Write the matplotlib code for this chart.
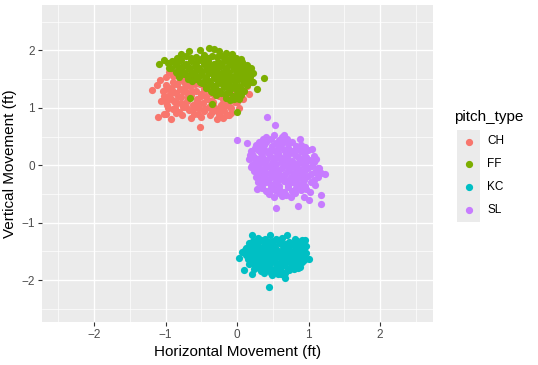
import matplotlib.pyplot as plt
from matplotlib.lines import Line2D
from matplotlib.patches import Rectangle
import numpy as np

plt.rcParams['font.family'] = ['Liberation Sans', 'DejaVu Sans']

# pitch movement (ft)
ch_x = [-1.19, -1.11, -1.03, -0.93, -0.52, -0.28, -0.20, -0.08, 0.03, 0.14, 0.17, -1.08, -0.99, -0.85,
        -1.02, -0.98, -0.95, -0.92, -0.90, -0.88, -0.86, -0.84, -0.82, -0.80, -0.78, -0.76, -0.74,
        -0.72, -0.70, -0.68, -0.66, -0.64, -0.62, -0.60, -0.58, -0.56, -0.54, -0.52, -0.50, -0.48,
        -0.46, -0.44, -0.42, -0.40, -0.38, -0.36, -0.34, -0.30, -0.26, -0.22, -0.18, -0.14, -0.10,
        -0.05, 0.00, 0.06, -0.96, -0.90, -0.70, -0.60, -1.06, -0.93, -0.77, -0.65, -0.50, -0.35,
        -1.12, -1.00, -0.87, -0.73, -0.58, -0.43, -0.12, 0.08,
        -0.97, -0.87, -0.71, -0.61, -0.45, -0.33, -0.24, -0.08,
        -1.00, -0.89, -0.79, -0.55, -0.37, -0.20, -0.03,
        -0.97, -0.83, -0.69, -0.51, -0.33, -0.17,
        -1.04, -0.91, -0.76, -0.63, -0.47,
        -0.99, -0.84, -0.69, -0.59,
        -0.99, -0.85, -0.55, -0.25, -0.14,
        -0.30, -0.20, -0.10, 0.00, 0.10, -0.25, -0.40, -0.15, 0.02, -0.45, -0.55,
        -0.80, -0.90, -0.85, -0.75]
ch_y = [1.31, 0.84, 0.89, 0.80, 0.66, 0.80, 0.82, 0.91, 1.57, 1.38, 1.24, 1.48, 1.54, 1.81,
        1.20, 1.05, 1.35, 1.15, 0.98, 1.42, 1.25, 1.08, 0.92, 1.33, 1.18, 1.02, 1.45,
        1.28, 1.12, 0.96, 1.38, 1.22, 1.05, 0.90, 1.30, 1.15, 1.00, 1.42, 1.24, 1.08,
        0.94, 1.32, 1.16, 1.02, 0.88, 1.26, 1.10, 0.97, 1.20, 1.05, 0.95, 1.14, 1.02,
        1.20, 1.10, 1.28, 1.62, 1.55, 1.58, 1.52, 1.12, 1.26, 0.88, 0.82, 0.84, 0.92,
        1.40, 1.32, 1.10, 1.36, 1.08, 1.20, 0.88, 1.16,
        1.00, 0.99, 1.01, 1.00, 0.98, 1.02, 1.00, 0.99,
        1.10, 1.11, 1.09, 1.10, 1.12, 1.08, 1.10,
        1.20, 1.21, 1.19, 1.20, 1.22, 1.18,
        1.30, 1.31, 1.29, 1.30, 1.32,
        1.40, 1.41, 1.39, 1.42,
        0.90, 0.91, 0.89, 0.90, 0.88,
        1.22, 1.15, 1.25, 1.20, 1.30, 1.30, 1.35, 1.05, 1.00, 1.45, 1.45,
        1.50, 1.45, 1.62, 1.55]

ff_x = [-1.03, -1.10, -0.67, -0.40, -0.25, -0.07, 0.14, 0.15, 0.21, 0.28, 0.38, 0.00, -0.66, -0.35,
        -0.52, -0.32, -0.15, 0.05, -0.78,
        -0.71, -0.57, -0.46, -0.35, -0.21, -0.09,
        -0.91, -0.79, -0.65, -0.51, -0.41, -0.27, -0.15, -0.03, 0.07,
        -0.86, -0.73, -0.59, -0.47, -0.34, -0.23, -0.11, 0.01, 0.11,
        -0.81, -0.67, -0.56, -0.44, -0.29, -0.17, -0.05, 0.07, 0.17,
        -0.75, -0.63, -0.51, -0.39, -0.25, -0.13, -0.01, 0.09,
        -0.69, -0.57, -0.45, -0.33, -0.21, -0.09, 0.03, 0.15,
        -0.49, -0.37, -0.27, -0.13, -0.03, 0.09,
        -0.43, -0.29, -0.19, -0.07, 0.05,
        -0.35, -0.23, -0.11, 0.01,
        -0.16, -0.05,
        -0.84, 0.22, -0.95,
        -0.84, -0.64, -0.51, -0.41, -0.28, -0.15, -0.02,
        -0.97, -0.84, -0.72, -0.58, -0.46, -0.33, -0.21, -0.09, 0.02,
        -0.92, -0.79, -0.66, -0.53, -0.41, -0.28, -0.16, -0.04, 0.07, 0.19,
        -0.86, -0.74, -0.62, -0.49, -0.37, -0.23, -0.11, 0.01, 0.13,
        -0.81, -0.69, -0.56, -0.44, -0.32, -0.19, -0.07, 0.05, 0.18,
        -0.63, -0.52, -0.40, -0.27, -0.14, -0.03, 0.10, 0.22,
        -0.44, -0.32, -0.20, -0.09, 0.03, 0.14,
        -0.36, -0.25, -0.12, 0.00, 0.10,
        -0.29, -0.17, -0.06, 0.05,
        -0.10, 0.02]
ff_y = [1.83, 1.77, 1.99, 2.04, 1.99, 1.93, 1.75, 1.69, 1.45, 1.32, 1.52, 0.93, 1.17, 1.07,
        2.00, 2.02, 1.96, 1.85, 1.93,
        1.91, 1.89, 1.92, 1.90, 1.91, 1.88,
        1.82, 1.83, 1.81, 1.84, 1.82, 1.80, 1.83, 1.81, 1.80,
        1.74, 1.75, 1.73, 1.76, 1.74, 1.72, 1.75, 1.73, 1.72,
        1.66, 1.67, 1.65, 1.68, 1.66, 1.64, 1.67, 1.65, 1.63,
        1.58, 1.59, 1.57, 1.60, 1.58, 1.56, 1.59, 1.57,
        1.50, 1.51, 1.49, 1.52, 1.50, 1.48, 1.51, 1.49,
        1.43, 1.41, 1.44, 1.42, 1.40, 1.43,
        1.35, 1.33, 1.36, 1.34, 1.32,
        1.27, 1.25, 1.28, 1.24,
        1.17, 1.16,
        1.60, 1.60, 1.70,
        1.86, 1.87, 1.85, 1.86, 1.88, 1.85, 1.86,
        1.78, 1.79, 1.77, 1.78, 1.80, 1.77, 1.78, 1.79, 1.77,
        1.70, 1.71, 1.69, 1.70, 1.72, 1.69, 1.70, 1.71, 1.69, 1.70,
        1.62, 1.63, 1.61, 1.62, 1.64, 1.61, 1.62, 1.63, 1.61,
        1.54, 1.55, 1.53, 1.54, 1.56, 1.53, 1.54, 1.55, 1.53,
        1.47, 1.45, 1.46, 1.48, 1.45, 1.46, 1.47, 1.45,
        1.37, 1.38, 1.40, 1.37, 1.38, 1.39,
        1.29, 1.30, 1.32, 1.29, 1.30,
        1.22, 1.24, 1.21, 1.22,
        1.14, 1.16]

kc_x = [0.07, 0.09, 0.45, 0.21, 0.67, 0.95, 1.00, 0.88, 0.21, 0.46, 0.70, 0.03,
        0.29, 0.39, 0.54, 0.63, 0.81,
        0.17, 0.27, 0.39, 0.47, 0.59, 0.67, 0.79, 0.87,
        0.13, 0.25, 0.33, 0.45, 0.53, 0.65, 0.73, 0.85, 0.93,
        0.17, 0.25, 0.37, 0.45, 0.57, 0.65, 0.77, 0.85, 0.97,
        0.19, 0.29, 0.37, 0.49, 0.57, 0.69, 0.77, 0.89,
        0.21, 0.29, 0.41, 0.49, 0.61, 0.69, 0.81, 0.91,
        0.25, 0.37, 0.45, 0.57, 0.65, 0.77, 0.83,
        0.33, 0.41, 0.53, 0.61, 0.73,
        0.49, 0.61,
        0.22, 0.33, 0.44, 0.50, 0.60, 0.72, 0.84, 0.91,
        0.19, 0.29, 0.43, 0.51, 0.62, 0.71, 0.81, 0.90, 0.97,
        0.11, 0.21, 0.29, 0.41, 0.49, 0.61, 0.69, 0.81, 0.89,
        0.13, 0.22, 0.33, 0.43, 0.53, 0.61, 0.73, 0.83, 0.93,
        0.15, 0.24, 0.33, 0.45, 0.53, 0.64, 0.73, 0.84, 0.94,
        0.17, 0.26, 0.35, 0.45, 0.55, 0.65, 0.75, 0.87,
        0.23, 0.31, 0.41, 0.51, 0.61, 0.71, 0.80, 0.85,
        0.38, 0.47, 0.57, 0.67]
kc_y = [-1.51, -1.83, -2.12, -1.89, -1.97, -1.31, -1.63, -1.77, -1.22, -1.21, -1.22, -1.62,
        -1.27, -1.29, -1.28, -1.26, -1.29,
        -1.36, -1.35, -1.37, -1.36, -1.34, -1.37, -1.35, -1.36,
        -1.44, -1.43, -1.45, -1.44, -1.42, -1.45, -1.43, -1.44, -1.45,
        -1.52, -1.51, -1.53, -1.52, -1.50, -1.53, -1.51, -1.52, -1.53,
        -1.60, -1.59, -1.61, -1.60, -1.58, -1.61, -1.59, -1.60,
        -1.68, -1.67, -1.69, -1.68, -1.66, -1.69, -1.67, -1.68,
        -1.76, -1.75, -1.77, -1.76, -1.74, -1.77, -1.75,
        -1.84, -1.83, -1.85, -1.84, -1.82,
        -1.92, -1.90,
        -1.32, -1.31, -1.33, -1.32, -1.30, -1.33, -1.32, -1.31,
        -1.40, -1.39, -1.41, -1.40, -1.38, -1.41, -1.40, -1.39, -1.41,
        -1.48, -1.47, -1.49, -1.48, -1.46, -1.49, -1.48, -1.47, -1.49,
        -1.56, -1.55, -1.57, -1.56, -1.54, -1.57, -1.56, -1.55, -1.57,
        -1.64, -1.63, -1.65, -1.64, -1.62, -1.65, -1.64, -1.63, -1.65,
        -1.72, -1.71, -1.73, -1.72, -1.70, -1.73, -1.72, -1.71,
        -1.80, -1.79, -1.81, -1.80, -1.78, -1.81, -1.80, -1.79,
        -1.88, -1.87, -1.89, -1.88]

sl_x = [0.42, 0.53, 0.00, 0.14, 0.65, 1.05, 0.18, 0.19, 0.28, 0.44, 0.54, 0.85, 1.00, 1.18,
        1.23, 1.18, 0.88, 1.10, 1.15,
        0.41, 0.51, 0.63,
        0.31, 0.41, 0.55, 0.65, 0.77,
        0.25, 0.35, 0.47, 0.59, 0.71, 0.83, 0.95,
        0.21, 0.33, 0.45, 0.57, 0.69, 0.81, 0.93,
        0.17, 0.29, 0.41, 0.53, 0.65, 0.77, 0.89, 1.01,
        0.21, 0.31, 0.45, 0.55, 0.69, 0.79, 0.93, 1.05,
        0.23, 0.35, 0.47, 0.59, 0.71, 0.83, 0.95, 1.09,
        0.27, 0.37, 0.51, 0.61, 0.75, 0.85, 0.99, 1.13,
        0.29, 0.41, 0.53, 0.65, 0.77, 0.89, 1.03,
        0.35, 0.47, 0.59, 0.71, 0.83, 0.97,
        0.45, 0.59, 0.69, 0.81,
        0.30, 0.36, 0.48, 0.60, 0.72, 0.90,
        0.36, 0.47, 0.58, 0.70,
        0.27, 0.37, 0.49, 0.61, 0.71, 0.83, 0.90,
        0.19, 0.29, 0.41, 0.53, 0.65, 0.77, 0.89, 0.99,
        0.23, 0.35, 0.47, 0.59, 0.71, 0.85, 0.97, 1.07,
        0.25, 0.37, 0.49, 0.61, 0.73, 0.85, 0.97, 1.08,
        0.27, 0.39, 0.51, 0.63, 0.75, 0.87, 0.99, 1.13,
        0.29, 0.41, 0.55, 0.67, 0.79, 0.91, 1.03, 1.17,
        0.33, 0.45, 0.57, 0.69, 0.81, 0.93, 1.07,
        0.35, 0.47, 0.59, 0.71, 0.83, 0.95, 1.09,
        0.41, 0.53, 0.65, 0.77, 0.89, 1.02,
        0.51, 0.63, 0.75, 0.94]
sl_y = [0.84, 0.70, 0.44, 0.39, 0.53, 0.29, 0.17, -0.03, -0.41, -0.49, -0.74, -0.71, -0.60, -0.67,
        -0.15, -0.52, 0.45, 0.10, -0.05,
        0.50, 0.52, 0.49,
        0.40, 0.41, 0.39, 0.42, 0.40,
        0.30, 0.31, 0.29, 0.32, 0.30, 0.28, 0.31,
        0.20, 0.21, 0.19, 0.22, 0.20, 0.18, 0.21,
        0.10, 0.11, 0.09, 0.12, 0.10, 0.08, 0.11, 0.09,
        0.00, 0.01, -0.01, 0.02, 0.00, -0.02, 0.01, -0.01,
        -0.10, -0.09, -0.11, -0.08, -0.10, -0.12, -0.09, -0.11,
        -0.20, -0.19, -0.21, -0.18, -0.20, -0.22, -0.19, -0.21,
        -0.30, -0.29, -0.31, -0.28, -0.30, -0.32, -0.29,
        -0.40, -0.39, -0.41, -0.38, -0.40, -0.42,
        -0.50, -0.49, -0.51, -0.48,
        -0.25, 0.05, -0.15, 0.15, -0.05, 0.25,
        0.45, 0.46, 0.44, 0.45,
        0.35, 0.36, 0.34, 0.35, 0.37, 0.34, 0.35,
        0.25, 0.26, 0.24, 0.25, 0.27, 0.24, 0.25, 0.26,
        0.15, 0.16, 0.14, 0.15, 0.17, 0.14, 0.15, 0.16,
        0.05, 0.06, 0.04, 0.05, 0.07, 0.04, 0.05, 0.06,
        -0.05, -0.04, -0.06, -0.05, -0.03, -0.06, -0.05, -0.04,
        -0.15, -0.14, -0.16, -0.15, -0.13, -0.16, -0.15, -0.14,
        -0.25, -0.24, -0.26, -0.25, -0.23, -0.26, -0.25,
        -0.35, -0.34, -0.36, -0.35, -0.33, -0.36, -0.35,
        -0.45, -0.44, -0.46, -0.45, -0.43, -0.46,
        -0.55, -0.54, -0.56, -0.55]

pitch_types = ["CH", "FF", "KC", "SL"]
colors = {"CH": "#F8766D", "FF": "#7CAE00", "KC": "#00BFC4", "SL": "#C77CFF"}
series = {"CH": (ch_x, ch_y), "FF": (ff_x, ff_y), "KC": (kc_x, kc_y), "SL": (sl_x, sl_y)}

fig = plt.figure(figsize=(5.38, 3.65), dpi=100)
ax = fig.add_axes([42 / 538, 43 / 365, 391 / 538, 317 / 365])
ax.set_facecolor("#EBEBEB")

for pt in pitch_types:
    xs, ys = series[pt]
    ax.scatter(xs, ys, s=27, color=colors[pt], linewidths=0, zorder=3)

ax.set_xlim(-2.73, 2.74)
ax.set_ylim(-2.73, 2.79)
ax.set_xticks([-2, -1, 0, 1, 2])
ax.set_yticks([-2, -1, 0, 1, 2])
ax.set_xticks(np.arange(-2.5, 3, 1.0), minor=True)
ax.set_yticks(np.arange(-2.5, 3, 1.0), minor=True)
ax.grid(which="major", color="white", linewidth=1.0, zorder=0)
ax.grid(which="minor", color="white", linewidth=0.5, zorder=0)
ax.set_axisbelow(True)
for sp in ax.spines.values():
    sp.set_visible(False)
ax.tick_params(which="major", length=3, width=0.8, color="#333333", labelsize=8.5,
               labelcolor="#4D4D4D", pad=2)
ax.tick_params(which="minor", length=0)

ax.set_xlabel("Horizontal Movement (ft)", fontsize=11, labelpad=3)
ax.set_ylabel("Vertical Movement (ft)", fontsize=11, labelpad=3)

# legend drawn by hand, ggplot style
fig.text(454 / 538, 1 - 117 / 365, "pitch_type", fontsize=11, va="center", ha="left")
fig.patches.append(Rectangle((457 / 538, 1 - 222 / 365), 23 / 538, 92 / 365,
                             transform=fig.transFigure, facecolor="#EBEBEB",
                             edgecolor="none"))
for i, pt in enumerate(pitch_types):
    yy = 1 - (141.5 + i * 22.7) / 365
    fig.lines.append(Line2D([468.5 / 538], [yy], marker="o", markersize=4.2,
                            color=colors[pt], linestyle="none",
                            transform=fig.transFigure))
    fig.text(487 / 538, yy, pt, fontsize=8.5, va="center", ha="left", color="black")

fig.savefig("out.png", dpi=100)
